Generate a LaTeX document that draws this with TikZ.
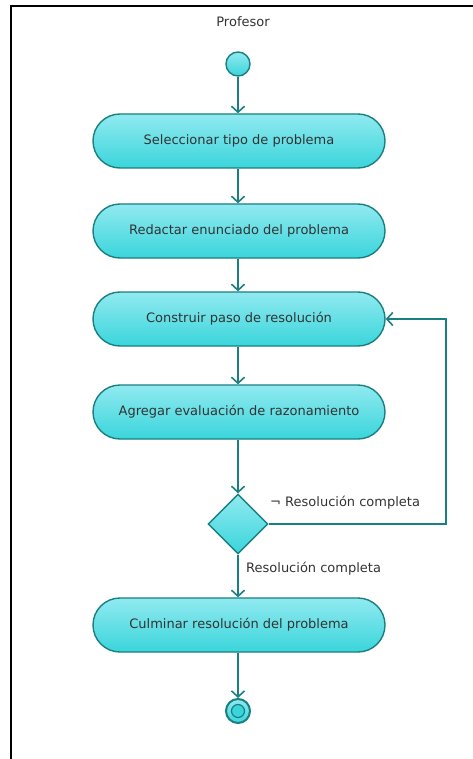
\documentclass[tikz,border=0pt]{standalone}
\usepackage{fontspec}
\setmainfont{DejaVu Sans}
\usetikzlibrary{arrows.meta,shapes.geometric,shapes.misc}
\definecolor{umlline}{HTML}{1A7F80}
\definecolor{filltop}{HTML}{90EAF0}
\definecolor{fillbot}{HTML}{3AD5DB}
\definecolor{txt}{HTML}{333333}
\tikzset{
  flow/.style={draw=umlline, line width=1.6pt, -{Straight Barb[length=6pt,width=13pt,line width=1.6pt]}},
  action/.style={rounded rectangle, draw=umlline, line width=1.4pt, top color=filltop, bottom color=fillbot,
     minimum width=292pt, minimum height=54pt, text=txt, font=\fontsize{13}{15}\selectfont, inner sep=0pt},
  decision/.style={diamond, draw=umlline, line width=1.4pt, top color=filltop, bottom color=fillbot,
     minimum width=60pt, minimum height=60pt, inner sep=0pt},
  lbl/.style={text=txt, font=\fontsize{13}{15}\selectfont, inner sep=0pt},
  startnode/.style={circle, draw=umlline, line width=1.4pt, top color=filltop, bottom color=fillbot, minimum size=24pt, inner sep=0pt},
}
\begin{document}
\begin{tikzpicture}[x=1pt,y=-1pt]
\useasboundingbox (0,0) rectangle (473,759);
\draw[line width=2.5pt, black] (11,759) -- (11,6) -- (473,6);
\node[lbl] (title) at (243,22) {Profesor};
\node[startnode] (start) at (238,64) {};
\node[action] (a1) at (239,141) {Seleccionar tipo de problema};
\node[action] (a2) at (239,231) {Redactar enunciado del problema};
\node[action] (a3) at (239,319) {Construir paso de resolución};
\node[action] (a4) at (239,412) {Agregar evaluación de razonamiento};
\node[decision] (d) at (238,524) {};
\node[action] (a5) at (239,625) {Culminar resolución del problema};
\node[startnode, line width=2pt] (end) at (238,711) {};
\node[circle, draw=umlline, line width=1.2pt, fill=fillbot, minimum size=13pt, inner sep=0pt] (endin) at (238,711) {};
\coordinate (c1) at (446,524);
\coordinate (c2) at (446,319);
\draw[flow] (start) -- (a1.north -| start);
\draw[flow] (a1.south -| start) -- (a2.north -| start);
\draw[flow] (a2.south -| start) -- (a3.north -| start);
\draw[flow] (a3.south -| start) -- (a4.north -| start);
\draw[flow] (a4.south -| start) -- (d.north);
\draw[flow] (d.south) -- (a5.north -| start);
\draw[flow] (a5.south -| start) -- (end.north);
\draw[flow] (d.east) -- (c1) -- (c2) -- (a3.east);
\node[lbl, anchor=west] (l1) at (270,503) {¬ Resolución completa};
\node[lbl, anchor=west] (l2) at (246,569) {Resolución completa};
\end{tikzpicture}
\end{document}
